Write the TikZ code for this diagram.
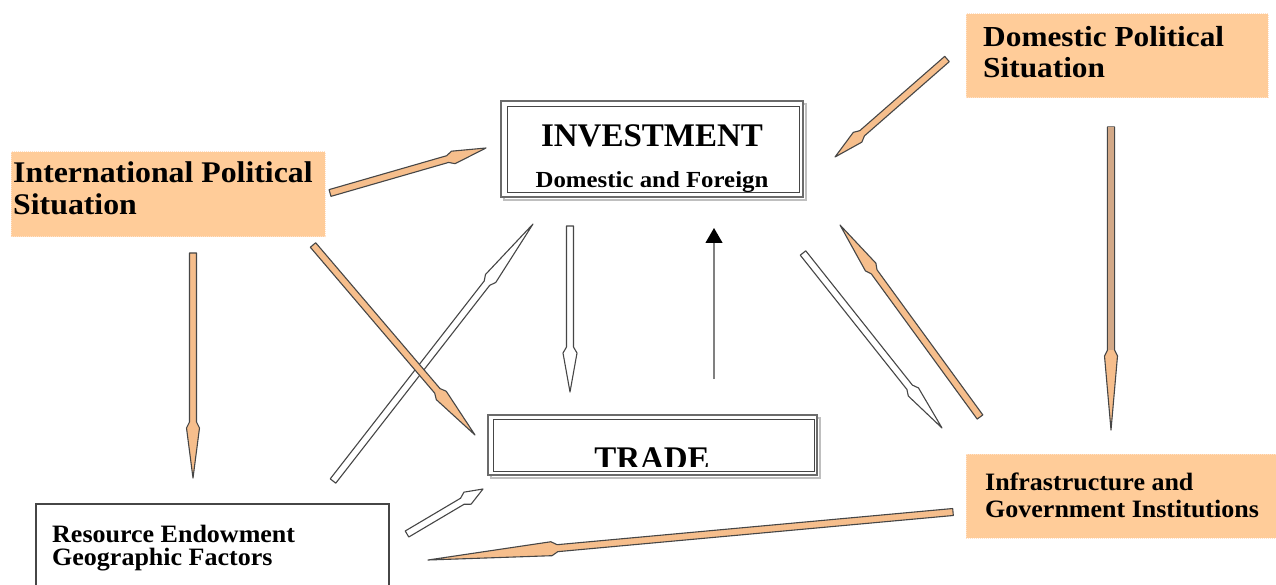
\documentclass[tikz,border=0pt]{standalone}
\usepackage{fontspec}
\setmainfont{Liberation Serif}
\usetikzlibrary{calc,arrows.meta}
\definecolor{boxorange}{RGB}{255,204,153}
\definecolor{boxedge}{RGB}{255,225,200}
\definecolor{arrorange}{RGB}{246,190,140}
\definecolor{arrtan}{RGB}{210,168,135}
\definecolor{edgegray}{RGB}{70,70,70}
\tikzset{
  arrline/.style={draw=edgegray, line width=1.1pt, line join=round},
  txt/.style={inner sep=0pt, text=black},
  orbox/.style={fill=boxorange, draw=boxedge, densely dotted, line width=1pt},
}
% #1 fill, #2 start, #3 tip, #4 head length, #5 head half-width
\newcommand\blockarrow[5]{%
  \coordinate (bh) at ($(#3)!#4pt!(#2)$);
  \coordinate (bk) at ($(bh)!6pt!(#3)$);
  \draw[arrline,fill=#1] ($(#2)!3.5pt!90:(#3)$) -- ($(bh)!3.5pt!-90:(#2)$) -- ($(bk)!#5pt!-90:(#2)$) -- (#3) -- ($(bk)!#5pt!90:(#2)$) -- ($(bh)!3.5pt!90:(#2)$) -- ($(#2)!3.5pt!-90:(#3)$) -- cycle;}
\begin{document}
\begin{tikzpicture}[x=1pt,y=-1pt]
\clip (0,0) rectangle (1276,585);
\fill[white] (0,0) rectangle (1276,585);

% ---- boxes ----
\fill[orbox] (11,152) rectangle (325,237);
\node[coordinate] (intl) at (168,195) {};
\fill[orbox] (966,14) rectangle (1268,98);
\node[coordinate] (dom) at (1117,56) {};
\fill[orbox] (966,454) rectangle (1290,538);
\node[coordinate] (infra) at (1120,496) {};

% investment box
\draw[gray!50, line width=2pt] (504,104) rectangle (806,200);
\draw[edgegray!80, line width=1.1pt, fill=white] (501,101) rectangle (803,197);
\draw[edgegray, line width=1pt] (507,107) rectangle (799,193);
\node[coordinate] (inv) at (652,150) {};

% trade box
\draw[gray!50, line width=2pt] (491,418) rectangle (820,478);
\draw[edgegray!80, line width=1.1pt, fill=white] (488,415) rectangle (817,475);
\draw[edgegray, line width=1pt] (493,419) rectangle (814,471);
\node[coordinate] (trade) at (652,445) {};

% resource box
\draw[edgegray, line width=1.2pt, fill=white] (36,504) rectangle (389,620);
\node[coordinate] (res) at (212,545) {};

% ---- texts ----
\node[txt, anchor=base, font=\bfseries\fontsize{33}{33}\selectfont] (invt) at (652,147) {INVESTMENT};
\node[txt, anchor=base, font=\bfseries\fontsize{23}{23}\selectfont, xscale=1.08] (invt2) at (652,188) {Domestic and Foreign};
\begin{scope}
\clip (493,419) rectangle (814,466);
\node[txt, anchor=base, font=\bfseries\fontsize{33}{33}\selectfont] (tradet) at (652,469) {TRADE};
\end{scope}
\node[txt, anchor=base west, font=\bfseries\fontsize{30}{30}\selectfont, xscale=1.06] (intl1) at (13,183) {International Political};
\node[txt, anchor=base west, font=\bfseries\fontsize{30}{30}\selectfont, xscale=1.06] (intl2) at (13,215) {Situation};
\node[txt, anchor=base west, font=\bfseries\fontsize{29}{29}\selectfont, xscale=1.08] (dom1) at (983,47) {Domestic Political};
\node[txt, anchor=base west, font=\bfseries\fontsize{29}{29}\selectfont, xscale=1.08] (dom2) at (983,78) {Situation};
\node[txt, anchor=base west, font=\bfseries\fontsize{25}{25}\selectfont, xscale=1.04] (inf1) at (985,490) {Infrastructure and};
\node[txt, anchor=base west, font=\bfseries\fontsize{25}{25}\selectfont, xscale=1.04] (inf2) at (985,517) {Government Institutions};
\node[txt, anchor=base west, font=\bfseries\fontsize{25}{25}\selectfont, xscale=1.04] (res1) at (52,542) {Resource Endowment};
\node[txt, anchor=base west, font=\bfseries\fontsize{25}{25}\selectfont, xscale=1.04] (res2) at (52,565) {Geographic Factors};

% ---- arrow end points ----
\coordinate (a1s) at (330,193);  \coordinate (a1e) at (486,148);
\coordinate (a2s) at (947,59);   \coordinate (a2e) at (835,157);
\coordinate (a3s) at (193,253);  \coordinate (a3e) at (193,478);
\coordinate (a4s) at (313,245);  \coordinate (a4e) at (475,435);
\coordinate (a5s) at (333,481);  \coordinate (a5e) at (533,224);
\coordinate (a6s) at (570,226);  \coordinate (a6e) at (570,392);
\coordinate (a7s) at (714,379);  \coordinate (a7e) at (714,228);
\coordinate (a8s) at (803,253);  \coordinate (a8e) at (942,428);
\coordinate (a9s) at (980,417);  \coordinate (a9e) at (840,225);
\coordinate (a10s) at (1111,127); \coordinate (a10e) at (1111,430);
\coordinate (a11s) at (407,534); \coordinate (a11e) at (483,489);
\coordinate (a12s) at (953,512); \coordinate (a12e) at (428,560);

% ---- arrows ----
\blockarrow{arrorange}{a3s}{a3e}{56}{6.5}
\blockarrow{white}{a5s}{a5e}{75}{6.5}
\blockarrow{arrorange}{a4s}{a4e}{58}{6.5}
\blockarrow{arrorange}{a1s}{a1e}{40}{6.5}
\blockarrow{arrorange}{a2s}{a2e}{36}{6.5}
\blockarrow{white}{a6s}{a6e}{45}{7}
\draw[gray, line width=1.2pt, -{Triangle[width=17pt,length=15pt,fill=black,color=black]}] (a7s) -- (a7e);
\blockarrow{white}{a8s}{a8e}{52}{6.5}
\blockarrow{arrorange}{a9s}{a9e}{58}{6.5}
\blockarrow{arrorange}{a10s}{a10e}{80}{6.5}
\fill[arrtan] ($(a10s)!3pt!90:(a10e)$) -- ($(bh)!3pt!-90:(a10s)$) -- ($(bh)!3pt!90:(a10s)$) -- ($(a10s)!3pt!-90:(a10e)$) -- cycle;
\blockarrow{white}{a11s}{a11e}{24}{7}
\blockarrow{arrorange}{a12s}{a12e}{130}{7}
\end{tikzpicture}
\end{document}
